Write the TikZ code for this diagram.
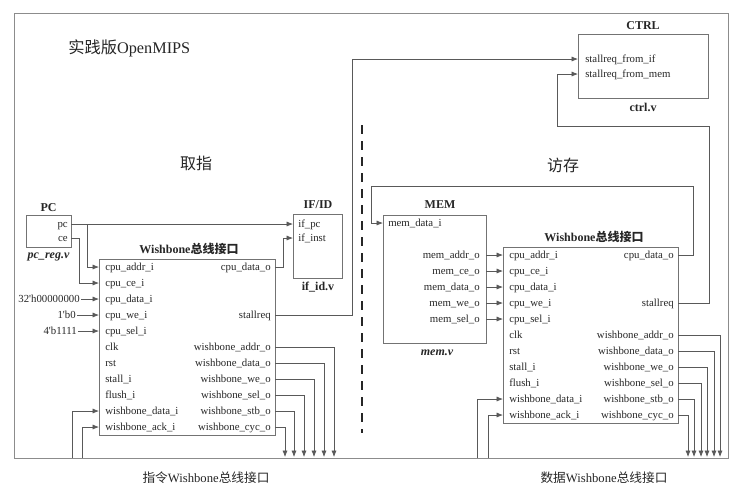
\documentclass[tikz,border=0pt]{standalone}
\usepackage{fontspec}
\setmainfont{Liberation Serif}
\newfontfamily\cjk{Noto Sans CJK SC}
\usetikzlibrary{arrows.meta}
\definecolor{txt}{gray}{0.15}
\definecolor{linec}{gray}{0.35}
\definecolor{boxc}{gray}{0.45}
\definecolor{framec}{gray}{0.55}
\newcommand\pf{\fontsize{8.1pt}{9pt}\selectfont}
\newcommand\tf{\fontsize{9pt}{10pt}\selectfont}
\begin{document}
\begin{tikzpicture}[x=0.75pt,y=-0.75pt,
  box/.style={draw=boxc, line width=0.6pt, inner sep=0pt, anchor=north west},
  port/.style={font=\pf, text=txt, inner sep=0pt},
  pl/.style={port, anchor=base west},
  pr/.style={port, anchor=base east},
  ttl/.style={font=\tf\bfseries, text=txt, inner sep=0pt},
  ttli/.style={font=\tf\bfseries\itshape, text=txt, inner sep=0pt},
  big/.style={font=\fontsize{12pt}{14pt}\selectfont, text=txt, inner sep=0pt},
  captext/.style={font=\fontsize{9.5pt}{11pt}\selectfont, text=txt, inner sep=0pt},
  wire/.style={draw=linec, line width=0.5pt},
  arr/.style={wire, -{Latex[length=4.8pt,width=3.8pt]}},
]
\useasboundingbox (0,0) rectangle (746,497);
\node[box, draw=framec, minimum width=535.5pt, minimum height=333.75pt] (frame) at (14,13) {};

% titles
\node[font=\fontsize{12.2pt}{14pt}\selectfont, text=txt, anchor=west, inner sep=0pt] (title) at (68,48) {{\cjk 实践版}OpenMIPS};
\node[big] (qz) at (196,163) {\cjk 取指};
\node[big] (fc) at (563,165) {\cjk 访存};

% dashed separator
\coordinate (dtop) at (362,125);
\coordinate (dbot) at (362,433);
\draw[draw=txt, line width=1.6pt, dash pattern=on 6.75pt off 5.25pt] (dtop) -- (dbot);

% PC
\node[box, minimum width=33.75pt, minimum height=24pt] (pc) at (26,215) {};
\node[ttl] (pct) at (48.5,208) {PC};
\node[pr] (pcpc) at (68,227) {pc};
\node[pr] (pcce) at (68,241) {ce};
\node[ttli] (pcv) at (48.5,257) {pc\_reg.v};
\coordinate (pco0) at (71,224);
\coordinate (pco1) at (71,238);
\coordinate (pcbr) at (87,224);

% IF/ID
\node[box, minimum width=36.75pt, minimum height=48pt] (ifid) at (293,214) {};
\node[ttl] (ifidt) at (318,205) {IF/ID};
\node[pl] (ifpc) at (298,227) {if\_pc};
\node[pl] (ifinst) at (298,241) {if\_inst};
\node[ttl] (ifidv) at (318,287) {if\_id.v};
\coordinate (ifi0) at (293,224);
\coordinate (ifi1) at (293,238);

% instruction wishbone
\node[box, minimum width=132pt, minimum height=132pt] (iwb) at (99,259) {};
\node[ttl] (iwbt) at (189,249) {Wishbone{\cjk 总线接口}};
\foreach \t [count=\i from 0] in {cpu\_addr\_i,cpu\_ce\_i,cpu\_data\_i,cpu\_we\_i,cpu\_sel\_i,clk,rst,stall\_i,flush\_i,wishbone\_data\_i,wishbone\_ack\_i}{
  \node[pl] (iwbL\i) at (105,{267+16*\i+3}) {\t};
  \coordinate (iwbi\i) at (99,{267+16*\i});
}
\foreach \r/\t in {0/cpu\_data\_o,3/stallreq,5/wishbone\_addr\_o,6/wishbone\_data\_o,7/wishbone\_we\_o,8/wishbone\_sel\_o,9/wishbone\_stb\_o,10/wishbone\_cyc\_o}{
  \node[pr] (iwbR\r) at (271,{267+16*\r+3}) {\t};
  \coordinate (iwbo\r) at (275,{267+16*\r});
}

% constants
\node[pr] (k32) at (80,302) {32\textquotesingle h00000000};
\node[pr] (k1) at (76,318) {1\textquotesingle b0};
\node[pr] (k4) at (77,334) {4\textquotesingle b1111};
\draw[arr] ([xshift=1pt]k32.east |- iwbi2) -- (iwbi2);
\draw[arr] ([xshift=1pt]k1.east |- iwbi3) -- (iwbi3);
\draw[arr] ([xshift=1pt]k4.east |- iwbi4) -- (iwbi4);

% PC wiring
\draw[arr] (pco0) -- (ifi0);
\draw[arr] (pcbr) |- (iwbi0);
\draw[arr] (pco1) -- ++(8,0) |- (iwbi1);
\draw[arr] (iwbo0) -- ++(8,0) |- (ifi1);

% instruction bus outputs / inputs
\foreach \r/\x in {5/334,6/324,7/314,8/304,9/294,10/285}{
  \coordinate (ib\r) at (\x,457);
  \draw[arr] (iwbo\r) -| (ib\r);
}
\coordinate (ibd) at (72,458);
\coordinate (iba) at (82,458);
\draw[arr] (ibd) |- (iwbi9);
\draw[arr] (iba) |- (iwbi10);

% CTRL
\node[box, minimum width=97.5pt, minimum height=48pt] (ctrl) at (578,34) {};
\node[ttl] (ctrlt) at (643,26) {CTRL};
\node[pl] (cf1) at (585,62) {stallreq\_from\_if};
\node[pl] (cf2) at (585,77) {stallreq\_from\_mem};
\node[ttl] (ctrlv) at (643,107) {ctrl.v};
\coordinate (ctrli0) at (578,59);
\coordinate (ctrli1) at (578,74);
\draw[arr] (iwbo3) -- ++(77,0) |- (ctrli0);

% MEM
\node[box, minimum width=77.25pt, minimum height=96pt] (mem) at (383,215) {};
\node[ttl] (memt) at (440,205) {MEM};
\node[pl] (memdi) at (388,226) {mem\_data\_i};
\coordinate (memi) at (383,223);
\node[ttli] (memv) at (437,353) {mem.v};
\foreach \t [count=\i from 0] in {mem\_addr\_o,mem\_ce\_o,mem\_data\_o,mem\_we\_o,mem\_sel\_o}{
  \node[pr] (memR\i) at (480,{255+16*\i+3}) {\t};
  \coordinate (memo\i) at (486,{255+16*\i});
}

% data wishbone
\node[box, minimum width=131.25pt, minimum height=132pt] (dwb) at (503,247) {};
\node[ttl] (dwbt) at (594,237) {Wishbone{\cjk 总线接口}};
\foreach \t [count=\i from 0] in {cpu\_addr\_i,cpu\_ce\_i,cpu\_data\_i,cpu\_we\_i,cpu\_sel\_i,clk,rst,stall\_i,flush\_i,wishbone\_data\_i,wishbone\_ack\_i}{
  \node[pl] (dwbL\i) at (509,{255+16*\i+3}) {\t};
  \coordinate (dwbi\i) at (503,{255+16*\i});
}
\foreach \r/\t in {0/cpu\_data\_o,3/stallreq,5/wishbone\_addr\_o,6/wishbone\_data\_o,7/wishbone\_we\_o,8/wishbone\_sel\_o,9/wishbone\_stb\_o,10/wishbone\_cyc\_o}{
  \node[pr] (dwbR\r) at (674,{255+16*\r+3}) {\t};
  \coordinate (dwbo\r) at (678,{255+16*\r});
}
\foreach \i in {0,...,4}{
  \draw[arr] (memo\i) -- (dwbi\i);
}
\foreach \r/\x in {5/720,6/714,7/707,8/701,9/694,10/688}{
  \coordinate (db\r) at (\x,457);
  \draw[arr] (dwbo\r) -| (db\r);
}
\coordinate (dbd) at (477,458);
\coordinate (dba) at (488,458);
\draw[arr] (dbd) |- (dwbi9);
\draw[arr] (dba) |- (dwbi10);

% feedback loops
\coordinate (loopA) at (693,186);
\coordinate (loopB) at (371,186);
\draw[arr] (dwbo0) -| (loopA) -- (loopB) |- (memi);
\coordinate (sA) at (709,126);
\coordinate (sB) at (557,126);
\draw[arr] (dwbo3) -| (sA) -- (sB) |- (ctrli1);

% captions
\node[captext] (capI) at (206,478) {{\cjk 指令}Wishbone{\cjk 总线接口}};
\node[captext] (capD) at (604,478) {{\cjk 数据}Wishbone{\cjk 总线接口}};
\end{tikzpicture}
\end{document}
